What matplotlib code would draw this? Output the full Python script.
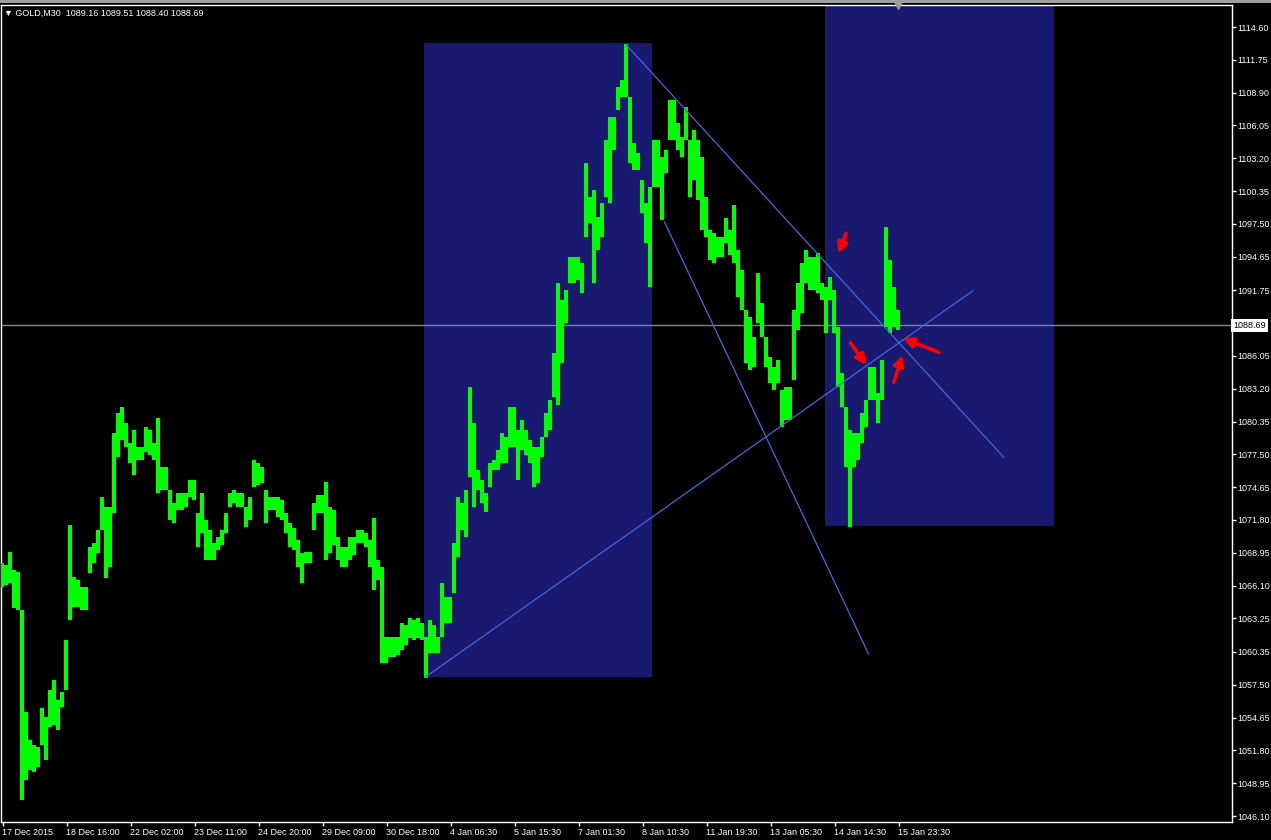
import matplotlib
matplotlib.use("Agg")
import matplotlib.pyplot as plt
from matplotlib.patches import Rectangle
import matplotlib.transforms as mtransforms
import numpy as np

plt.rcParams['font.family'] = ['Liberation Sans', 'DejaVu Sans']

# GOLD M30, one sample column every 4 bars (high / low of the column)
bar_step = 4
hi = [1068.07, 1067.89, 1069.02, 1067.46, 1067.29, 1063.99, 1055.13, 1052.70, 1052.27, 1052.09,
      1055.48, 1054.70, 1057.04, 1057.91, 1056.17, 1056.87, 1061.38, 1071.37, 1066.85, 1066.59,
      1065.98, 1065.98, 1069.46, 1069.80, 1070.93, 1073.80, 1072.93, 1072.93, 1079.35, 1081.09,
      1081.61, 1080.22, 1078.48, 1079.61, 1078.14, 1078.14, 1079.87, 1079.61, 1078.48, 1080.65,
      1076.40, 1076.40, 1074.41, 1073.28, 1074.14, 1074.14, 1074.14, 1075.27, 1075.27, 1072.41,
      1074.14, 1071.80, 1070.93, 1069.80, 1070.32, 1070.93, 1072.41, 1074.14, 1074.41, 1074.14,
      1074.14, 1072.93, 1073.80, 1077.01, 1076.75, 1076.40, 1074.41, 1073.80, 1073.80, 1073.80,
      1073.54, 1072.41, 1071.54, 1071.10, 1070.06, 1068.93, 1069.02, 1069.02, 1073.28, 1073.97,
      1073.97, 1075.10, 1072.93, 1072.67, 1070.32, 1069.46, 1069.46, 1070.32, 1070.32, 1070.93,
      1070.93, 1070.67, 1070.06, 1071.97, 1068.33, 1067.72, 1061.64, 1061.64, 1061.64, 1061.64,
      1062.86, 1062.68, 1063.29, 1063.12, 1063.29, 1062.86, 1061.64, 1063.12, 1062.68, 1061.64,
      1066.33, 1065.12, 1065.12, 1069.80, 1073.80, 1073.28, 1074.41, 1083.35, 1080.22, 1076.14,
      1075.27, 1074.14, 1076.75, 1077.01, 1077.88, 1079.35, 1079.00, 1081.61, 1081.61, 1079.61,
      1080.48, 1079.61, 1078.74, 1078.14, 1078.14, 1079.00, 1081.09, 1082.22, 1086.30, 1092.37,
      1090.90, 1091.77, 1094.63, 1094.63, 1094.63, 1094.11, 1102.79, 1099.84, 1100.45, 1098.10,
      1099.32, 1104.79, 1106.78, 1106.78, 1109.39, 1110.00, 1113.12, 1108.52, 1104.53, 1103.66,
      1101.31, 1099.32, 1100.71, 1104.79, 1104.79, 1103.31, 1103.92, 1108.26, 1108.26, 1106.26,
      1105.05, 1107.65, 1104.79, 1105.65, 1104.79, 1103.31, 1099.84, 1096.97, 1096.71, 1096.37,
      1096.37, 1098.02, 1096.97, 1099.14, 1095.24, 1093.50, 1090.03, 1089.42, 1087.68, 1093.24,
      1090.64, 1087.68, 1085.95, 1085.08, 1085.69, 1083.08, 1083.35, 1083.35, 1090.03, 1092.37,
      1094.11, 1095.24, 1094.63, 1094.63, 1094.98, 1092.37, 1092.03, 1092.89, 1091.77, 1088.55,
      1084.56, 1081.61, 1079.61, 1079.35, 1079.35, 1081.09, 1082.22, 1085.08, 1085.08, 1082.82,
      1085.69, 1097.23, 1094.37, 1092.03, 1090.03]
lo = [1065.98, 1066.16, 1066.33, 1064.16, 1063.99, 1047.49, 1049.23, 1050.10, 1049.92, 1050.36,
      1052.27, 1050.97, 1053.83, 1054.00, 1053.57, 1055.57, 1057.04, 1063.12, 1064.25, 1064.25,
      1063.99, 1063.99, 1067.20, 1068.07, 1068.93, 1070.93, 1066.76, 1067.72, 1072.41, 1077.27,
      1078.74, 1078.14, 1076.75, 1075.70, 1077.01, 1077.01, 1077.70, 1077.44, 1077.01, 1074.14,
      1074.41, 1074.41, 1071.80, 1071.54, 1072.67, 1072.67, 1072.93, 1073.80, 1073.54, 1069.46,
      1070.67, 1068.33, 1068.33, 1068.33, 1069.20, 1069.63, 1070.67, 1072.93, 1073.28, 1072.93,
      1072.93, 1071.19, 1071.80, 1074.67, 1074.84, 1075.01, 1071.54, 1072.67, 1072.67, 1072.06,
      1071.80, 1070.67, 1069.46, 1069.20, 1067.72, 1066.33, 1068.07, 1068.07, 1070.93, 1072.41,
      1072.41, 1068.33, 1068.93, 1069.63, 1068.33, 1067.72, 1067.72, 1068.33, 1068.76, 1069.80,
      1069.80, 1069.46, 1067.72, 1065.72, 1066.59, 1059.39, 1059.39, 1059.91, 1059.91, 1060.08,
      1060.51, 1060.95, 1061.56, 1061.38, 1061.56, 1061.38, 1058.08, 1060.25, 1060.25, 1060.25,
      1061.64, 1062.86, 1062.86, 1065.46, 1068.59, 1070.93, 1070.32, 1075.53, 1072.93, 1074.41,
      1073.28, 1072.49, 1074.67, 1076.14, 1076.14, 1076.75, 1076.75, 1078.14, 1078.14, 1075.27,
      1077.88, 1077.44, 1076.75, 1074.67, 1075.01, 1077.27, 1079.00, 1079.61, 1082.48, 1081.78,
      1085.43, 1088.90, 1092.37, 1092.37, 1092.63, 1091.51, 1096.37, 1097.58, 1092.37, 1095.24,
      1096.37, 1099.84, 1099.32, 1103.92, 1107.39, 1108.52, 1108.52, 1102.79, 1102.18, 1102.18,
      1098.45, 1095.85, 1092.03, 1100.71, 1100.71, 1097.84, 1101.92, 1104.79, 1104.79, 1103.92,
      1103.31, 1104.79, 1099.84, 1101.31, 1099.58, 1096.97, 1096.37, 1094.37, 1094.11, 1094.63,
      1094.63, 1095.85, 1094.80, 1094.11, 1091.16, 1090.03, 1085.43, 1084.82, 1085.08, 1088.90,
      1087.68, 1085.08, 1083.69, 1083.08, 1083.69, 1079.87, 1080.48, 1080.48, 1083.95, 1088.29,
      1089.77, 1092.37, 1091.77, 1091.77, 1091.51, 1090.90, 1088.03, 1090.90, 1088.03, 1083.35,
      1081.61, 1076.40, 1071.19, 1076.40, 1077.01, 1078.48, 1079.87, 1082.22, 1082.22, 1080.22,
      1082.22, 1088.55, 1088.03, 1088.55, 1088.29]

date_bars = [2, 66, 130, 194, 258, 322, 386, 450, 514, 578, 642, 706, 770, 834, 898]
date_labels = ['17 Dec 2015', '18 Dec 16:00', '22 Dec 02:00', '23 Dec 11:00', '24 Dec 20:00',
               '29 Dec 09:00', '30 Dec 18:00', '4 Jan 06:30', '5 Jan 15:30', '7 Jan 01:30',
               '8 Jan 10:30', '11 Jan 19:30', '13 Jan 05:30', '14 Jan 14:30', '15 Jan 23:30']
price_ticks = [1114.60, 1111.75, 1108.90, 1106.05, 1103.20, 1100.35, 1097.50, 1094.65, 1091.75,
               1086.05, 1083.20, 1080.35, 1077.50, 1074.65, 1071.80, 1068.95, 1066.10, 1063.25,
               1060.35, 1057.50, 1054.65, 1051.80, 1048.95, 1046.10]
last_price = 1088.69
header = '\u25bc GOLD,M30  1089.16 1089.51 1088.40 1088.69'

# objects drawn on the chart: (bar_from, bar_to, price_low, price_high)
boxes = [(423, 651, 1058.17, 1113.21), (824, 1053, 1071.28, 1120.0)]
trendlines = [((425, 1058.17), (972, 1091.68)),
              ((625, 1113.12), (1003, 1077.27)),
              ((664, 1097.67), (868, 1060.17))]
arrows = [((845.7, 1096.69), (837.7, 1094.95)),
          ((850.0, 1087.19), (865.7, 1085.25)),
          ((938.3, 1086.36), (902.3, 1087.57)),
          ((893.3, 1083.75), (901.7, 1086.12))]

W, H = 1271, 840
fs = 6.5
fig = plt.figure(figsize=(W / 100, H / 100), dpi=100, facecolor='black')
ax = fig.add_axes([0.5 / W, 18 / H, 1231 / W, 817 / H], facecolor='black')

for b0, b1, p0, p1 in boxes:
    ax.add_patch(Rectangle((b0, p0), b1 - b0, p1 - p0, facecolor='#191970', edgecolor='none', zorder=1))

ax.axhline(last_price, color='#778899', lw=1, zorder=2)

x = np.arange(len(hi)) * bar_step + 1
hi_a = np.array(hi)
lo_a = np.array(lo)
ax.bar(x, hi_a - lo_a, bottom=lo_a, width=bar_step, color='#00ff00', linewidth=0, zorder=3)

for (x0, y0), (x1, y1) in trendlines:
    ax.plot([x0, x1], [y0, y1], color='#4169e1', lw=0.9, zorder=4)

for (tx, ty), (hx, hy) in arrows:
    ax.annotate('', xy=(hx, hy), xytext=(tx, ty),
                arrowprops=dict(arrowstyle='-|>,head_length=0.6,head_width=0.3',
                                color='red', lw=2.6, shrinkA=0, shrinkB=0), zorder=5)

ax.set_xlim(0, 1231)
ax.set_ylim(1045.58, 1116.51)

ax.set_xticks(date_bars)
ax.set_xticklabels(date_labels, ha='left')
ax.yaxis.tick_right()
ax.set_yticks(price_ticks)
ax.set_yticklabels(['%.2f' % p for p in price_ticks])
ax.tick_params(axis='both', colors='white', labelsize=fs, length=3, width=1, direction='out', pad=1.2)
ax.tick_params(axis='x', pad=1.2)
for s in ax.spines.values():
    s.set_color('white')
    s.set_linewidth(1)

# current price label on the price scale
trans = mtransforms.blended_transform_factory(ax.transAxes, ax.transData)
ax.text(1.0012, last_price, '%.2f' % last_price, transform=trans, ha='left', va='center',
        fontsize=fs, color='black', zorder=10, clip_on=False,
        bbox=dict(boxstyle='square,pad=0.25', facecolor='white', edgecolor='none'))

# chart shift marker
ax.plot([897], [1.0], marker='v', color='#9a9a9a', markersize=6, clip_on=False,
        transform=mtransforms.blended_transform_factory(ax.transData, ax.transAxes), zorder=10)

fig.patches.append(Rectangle((0, 1 - 3 / H), 1, 3 / H, transform=fig.transFigure,
                             facecolor='#a0a0a0', edgecolor='none'))
fig.text(4 / W, 1 - 13 / H, header, color='white', fontsize=fs, va='center', ha='left')

fig.savefig('out.png', dpi=100, facecolor='black')
